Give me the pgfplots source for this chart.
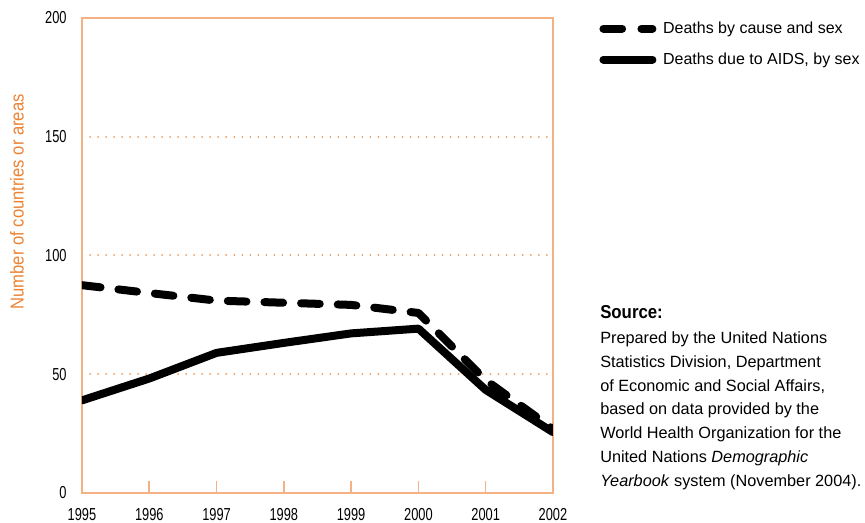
\documentclass[border=0pt]{standalone}
\usepackage{fontspec}
\setmainfont{Liberation Sans}
\newfontfamily\narrowfont{Liberation Sans}[FakeStretch=0.74]
\newfontfamily\labelfont{Liberation Sans}[FakeStretch=0.89]
\newfontfamily\srcfont{Liberation Sans}[FakeStretch=0.9]
\usepackage{pgfplots}
\pgfplotsset{compat=1.18}

\definecolor{axisorange}{HTML}{F4B183}
\definecolor{gridorange}{HTML}{F29B5A}
\definecolor{labelorange}{HTML}{EC8232}

% number of countries or areas reporting, by year
\pgfplotstableread{
year causesex
1995 87.5
1996 84.2
1997 81.0
1998 80.1
1999 79.2
2000 75.8
2001 47.5
2002 27.0
}\causesex
\pgfplotstableread{
year aids
1995 39.0
1996 48.2
1997 59.0
1998 63.2
1999 67.2
2000 69.2
2001 43.4
2002 25.6
}\aids

\begin{document}
\begin{tikzpicture}
\useasboundingbox (0pt,0pt) rectangle (648.75pt,392.25pt);
\begin{axis}[
    at={(61.5pt,22.5pt)}, anchor=south west,
    scale only axis,
    width=353.25pt, height=356.25pt,
    clip mode=individual,
    xmin=1995, xmax=2002,
    ymin=0, ymax=200,
    xtick={1995,...,2002},
    ytick={0,50,100,150,200},
    xtick pos=bottom,
    tick align=inside,
    major tick length=9pt,
    xtick style={axisorange, line width=1.2pt},
    ytick style={draw=none},
    axis line style={axisorange, line width=1.5pt},
    ymajorgrids,
    grid style={gridorange, line width=1.5pt, dash pattern=on 0.01pt off 6pt, line cap=round},
    /pgf/number format/1000 sep={},
    /pgf/number format/assume math mode=true,
    ticklabel style={font=\narrowfont\fontsize{13}{15}\selectfont},
    xticklabel style={yshift=-8pt},
    yticklabel style={xshift=-8pt},
    ylabel={Number of countries or areas},
    ylabel style={at={(axis description cs:-0.138,0.613)}, anchor=center,
        font=\labelfont\fontsize{14}{16}\selectfont, text=labelorange},
    legend style={at={(axis description cs:1.098,0.998)}, anchor=north west,
        draw=none, fill=none, font=\fontsize{12}{14}\selectfont,
        row sep=9pt, inner sep=0pt},
    legend cell align=left,
    legend image code/.code={\draw[#1] (0pt,0pt) -- (36.75pt,0pt);},
]
\addplot[black, line width=6pt, line cap=round, line join=round,
    dash pattern=on 14pt off 13.5pt,
    legend image code/.code={\draw[black, line width=6pt, line cap=round]
        (0pt,0pt) -- (15pt,0pt) (28.5pt,0pt) -- (36.75pt,0pt);}]
    table[x=year, y=causesex] {\causesex};
\addlegendentry{\hspace{3pt}Deaths by cause and sex}
\addplot[black, line width=6pt, line cap=round, line join=round]
    table[x=year, y=aids] {\aids};
\addlegendentry{\hspace{3pt}Deaths due to AIDS, by sex}

\node[anchor=north west, align=left, inner sep=0pt,
      font=\fontsize{12.2}{17.9}\selectfont]
    at (axis description cs:1.0998,0.396)
    {{\srcfont\bfseries\fontsize{14}{16}\selectfont Source:}\\[1pt]
     Prepared by the United Nations\\
     Statistics Division, Department\\
     of Economic and Social Affairs,\\
     based on data provided by the\\
     World Health Organization for the\\
     United Nations \textit{Demographic}\\
     \textit{Yearbook} system (November 2004).};
\end{axis}
\end{tikzpicture}
\end{document}
